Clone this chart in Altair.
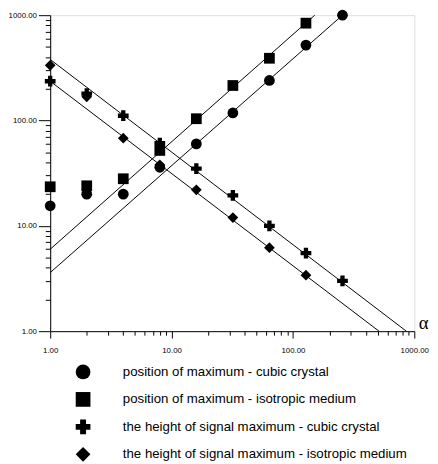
import altair as alt
import pandas as pd

# ---- data ----
x_vals = [1, 2, 4, 8, 16, 32, 64, 128, 256]
pos_cubic = [15.5, 20, 20, 36, 60, 118, 240, 520, 1000]
pos_iso = [23.5, 24, 28, 52, 104, 215, 390, 840]
height_cubic = [236, 180, 111, 61, 35, 19.5, 10, 5.5, 3.0]
height_iso = [334, 168, 68, 38, 22, 12, 6.2, 3.4]

series_names = [
    "position of maximum - cubic crystal",
    "position of maximum - isotropic medium",
    "the height of signal maximum - cubic crystal",
    "the height of signal maximum - isotropic medium",
]
shapes = ["circle", "square", "cross", "diamond"]

# fitted straight lines (end points on log-log axes)
fit_pos_cubic_x = [1, 256]
fit_pos_cubic_y = [3.6, 1000]
fit_pos_iso_x = [1, 160]
fit_pos_iso_y = [6.0, 1060]
fit_height_cubic_x = [1, 860]
fit_height_cubic_y = [380, 1]
fit_height_iso_x = [1, 512]
fit_height_iso_y = [236, 1]

# ---- tables ----
rows = []
for name, ys in zip(series_names, [pos_cubic, pos_iso, height_cubic, height_iso]):
    for xv, yv in zip(x_vals, ys):
        rows.append({"alpha": xv, "value": yv, "series": name})
points_df = pd.DataFrame(rows)

fit_rows = []
for name, fx, fy in zip(
    series_names,
    [fit_pos_cubic_x, fit_pos_iso_x, fit_height_cubic_x, fit_height_iso_x],
    [fit_pos_cubic_y, fit_pos_iso_y, fit_height_cubic_y, fit_height_iso_y],
):
    for xv, yv in zip(fx, fy):
        fit_rows.append({"alpha": xv, "value": yv, "series": name})
fit_df = pd.DataFrame(fit_rows)

tick_vals = [m * 10 ** k for k in range(3) for m in range(1, 10)] + [1000]
major = "(datum.value == 1 || datum.value == 10 || datum.value == 100 || datum.value == 1000)"
label_expr = f"{major} ? format(datum.value, '.2f') : ''"

xscale = alt.Scale(type="log", domain=[1, 1000], nice=False)
yscale = alt.Scale(type="log", domain=[1, 1000], nice=False, clamp=False)

x_axis = alt.Axis(
    values=tick_vals, labelExpr=label_expr, grid=False,
    tickSize={"condition": {"test": major, "value": 7}, "value": 4},
    tickColor="black", domainColor="black", tickWidth=1, domainWidth=1,
    labelFont="Liberation Sans", labelFontSize=8, labelColor="black",
    labelPadding=9, labelOverlap=False, labelFlush=False, labelBound=False,
    title="α", titleFont="Liberation Serif", titleFontSize=19, titleFontWeight="normal",
    titleColor="black", titleX=375, titleY=-9, titleAlign="left", titleBaseline="middle",
    titleAnchor="start",
)
y_axis = alt.Axis(
    values=tick_vals, labelExpr=label_expr, grid=False,
    tickSize={"condition": {"test": major, "value": 12}, "value": 5},
    tickColor="black", domainColor="black", tickWidth=1, domainWidth=1,
    labelFont="Liberation Sans", labelFontSize=8, labelColor="black",
    labelPadding=2, labelOverlap=False, labelFlush=False, labelBound=False,
    title=None,
)

lines = alt.Chart(fit_df).mark_line(color="black", strokeWidth=1, clip=True).encode(
    x=alt.X("alpha:Q", scale=xscale, axis=x_axis),
    y=alt.Y("value:Q", scale=yscale, axis=y_axis),
    detail="series:N",
)

pts = alt.Chart(points_df).mark_point(filled=True, size=120, opacity=1, color="black").encode(
    x=alt.X("alpha:Q", scale=xscale),
    y=alt.Y("value:Q", scale=yscale),
    shape=alt.Shape(
        "series:N",
        scale=alt.Scale(domain=series_names, range=shapes),
        legend=alt.Legend(
            orient="none", legendX=26, legendY=356, title=None, padding=0,
            symbolSize=225, symbolFillColor="black", symbolStrokeColor="black",
            symbolStrokeWidth=0, labelFont="Liberation Sans", labelFontSize=13.5,
            labelColor="black", labelOffset=33, rowPadding=13, labelLimit=0,
        ),
    ),
)

chart = (
    alt.layer(lines, pts)
    .properties(
        width=371, height=322,
        autosize=alt.AutoSizeParams(type="none"),
        padding={"left": 43, "top": 3, "right": 16, "bottom": 131},
    )
    .configure_view(stroke=None)
    .configure(background="white")
)

chart.save("out.html", embed_options={"renderer": "svg", "actions": False})
